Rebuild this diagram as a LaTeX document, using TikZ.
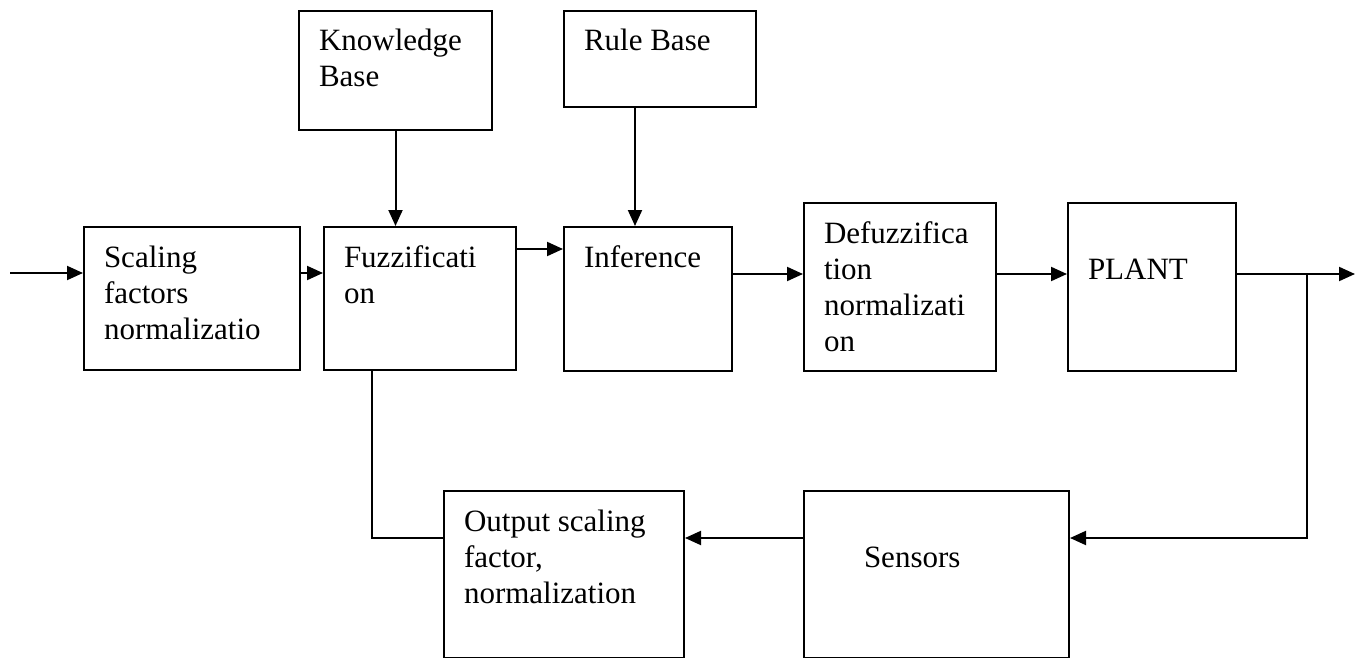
\documentclass[tikz,border=0pt]{standalone}
\usepackage{fontspec}
\setmainfont{Liberation Serif}
\usetikzlibrary{arrows.meta,calc}

\begin{document}
\begin{tikzpicture}[x=1pt,y=-1pt,
  line width=2pt,
  blk/.style={draw, rectangle, anchor=north west, inner sep=0pt},
  lbl/.style={anchor=north west, inner sep=0pt, align=left,
              font=\fontsize{31}{36}\selectfont},
  arr/.style={-{Triangle[length=16pt,width=14pt]}}]
  \useasboundingbox (0,0) rectangle (1355,658);

  % blocks: top-left corner, width, height
  \node[blk, minimum width=193pt, minimum height=119pt] (kb)    at (298,10)  {};
  \node[blk, minimum width=192pt, minimum height=96pt]  (rb)    at (563,10)  {};
  \node[blk, minimum width=216pt, minimum height=143pt] (scl)   at (83,226)  {};
  \node[blk, minimum width=192pt, minimum height=143pt] (fuz)   at (323,226) {};
  \node[blk, minimum width=168pt, minimum height=144pt] (inf)   at (563,226) {};
  \node[blk, minimum width=192pt, minimum height=168pt] (dfz)   at (803,202) {};
  \node[blk, minimum width=168pt, minimum height=168pt] (plant) at (1067,202) {};
  \node[blk, minimum width=240pt, minimum height=167pt] (osf)   at (443,490) {};
  \node[blk, minimum width=265pt, minimum height=167pt] (sen)   at (803,490) {};

  % block texts, first baseline 40pt below the top edge
  \node[lbl] (kbt)  at ($(kb.north west)+(20,15)$)  {\rule{0pt}{25pt}Knowledge\\Base};
  \node[lbl] (rbt)  at ($(rb.north west)+(20,15)$)  {\rule{0pt}{25pt}Rule Base};
  \node[lbl] (sclt) at ($(scl.north west)+(20,15)$) {\rule{0pt}{25pt}Scaling\\factors\\normalizatio};
  \node[lbl] (fuzt) at ($(fuz.north west)+(20,15)$) {\rule{0pt}{25pt}Fuzzificati\\on};
  \node[lbl] (inft) at ($(inf.north west)+(20,15)$) {\rule{0pt}{25pt}Inference};
  \node[lbl] (dfzt) at ($(dfz.north west)+(20,15)$) {\rule{0pt}{25pt}Defuzzifica\\tion\\normalizati\\on};
  \node[lbl] (plt)  at ($(plant.north west)+(20,51)$) {\rule{0pt}{25pt}PLANT};
  \node[lbl] (osft) at ($(osf.north west)+(20,15)$) {\rule{0pt}{25pt}Output scaling\\factor,\\normalization};
  \node[lbl] (sent) at ($(sen.north west)+(60,51)$) {\rule{0pt}{25pt}Sensors};

  % free ends and branch points
  \coordinate (in)  at (10,273);
  \coordinate (out) at (1355,274);
  \coordinate (br)  at (1307,274);

  % forward path
  \draw[arr] (in) -- (scl.west |- in);
  \draw[arr] (scl.east |- in) -- (fuz.west |- in);
  \draw[arr] (fuz.east |- 0,249) -- (inf.west |- 0,249);
  \draw[arr] (inf.east |- 0,274) -- (dfz.west |- 0,274);
  \draw[arr] (dfz.east |- 0,274) -- (plant.west |- 0,274);
  \draw[arr] (plant.east |- out) -- (out);

  % knowledge and rule inputs
  \draw[arr] (kb.south) -- (kb.south |- fuz.north);
  \draw[arr] ($(rb.south west)+(72,0)$) -- ($(inf.north west)+(72,0)$);

  % feedback loop
  \draw[arr] (br) |- (sen.east |- 0,538);
  \draw[arr] (sen.west |- 0,538) -- (osf.east |- 0,538);
  \draw (fuz.south -| 372,0) |- (osf.west |- 0,538);
\end{tikzpicture}
\end{document}
